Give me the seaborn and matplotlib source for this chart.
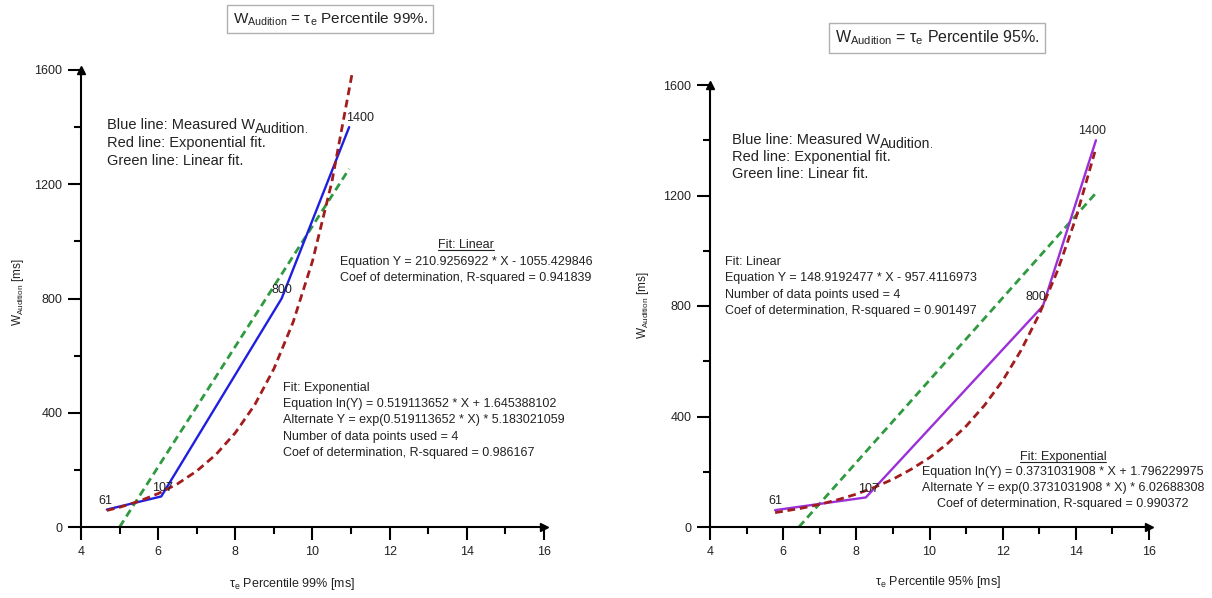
import numpy as np
import pandas as pd
import matplotlib
matplotlib.use("Agg")
import matplotlib.pyplot as plt
import seaborn as sns
from matplotlib.ticker import MultipleLocator
from matplotlib.lines import Line2D

# ---------------- data ----------------
w_audition = [61, 107, 800, 1400]          # measured W_Audition [ms]
tau_p99 = [4.67, 6.08, 9.2, 10.95]          # tau_e percentile 99% [ms]
tau_p95 = [5.78, 8.26, 13.1, 14.55]         # tau_e percentile 95% [ms]

# fitted curves
lin99_x = [5.0, 10.95]
lin99_y = [0, 1254]
exp99_x = [4.67, 5.0, 5.5, 6.0, 6.5, 7.0, 7.5, 8.0, 8.5, 9.0, 9.5, 10.0, 10.5, 11.04]
exp99_y = [58, 69, 90, 117, 151, 196, 254, 330, 427, 554, 718, 931, 1207, 1597]

lin95_x = [6.43, 14.55]
lin95_y = [0, 1209]
exp95_x = [5.78, 6.5, 7.0, 7.5, 8.0, 8.5, 9.0, 9.5, 10.0, 10.5, 11.0, 11.5, 12.0, 12.5, 13.0, 13.5, 14.0, 14.52]
exp95_y = [52, 68, 82, 99, 119, 144, 173, 209, 251, 303, 365, 440, 530, 639, 770, 928, 1118, 1358]

titles = ["W$_{\\mathregular{Audition}}$ = \u03c4$_{\\mathregular{e}}$ Percentile 99%.",
          "W$_{\\mathregular{Audition}}$ = \u03c4$_{\\mathregular{e}}$ Percentile 95%."]
xlabels = ["\u03c4$_{\\mathregular{e}}$ Percentile 99% [ms]",
           "\u03c4$_{\\mathregular{e}}$ Percentile 95% [ms]"]
ylabel = "W$_{\\mathregular{Audition}}$ [ms]"
legend_first = ("Blue line: Measured W", "Audition", ".")
legend_rest = ["Red line: Exponential fit.",
               "Green line: Linear fit."]

left_lin = ["Fit: Linear",
            "Equation Y = 210.9256922 * X - 1055.429846",
            "Coef of determination, R-squared = 0.941839"]
left_exp = ["Fit: Exponential",
            "Equation ln(Y) = 0.519113652 * X + 1.645388102",
            "Alternate Y = exp(0.519113652 * X) * 5.183021059",
            "Number of data points used = 4",
            "Coef of determination, R-squared = 0.986167"]
right_lin = ["Fit: Linear",
             "Equation Y = 148.9192477 * X - 957.4116973",
             "Number of data points used = 4",
             "Coef of determination, R-squared = 0.901497"]
right_exp = ["Fit: Exponential",
             "Equation ln(Y) = 0.3731031908 * X + 1.796229975",
             "Alternate Y = exp(0.3731031908 * X) * 6.02688308",
             "Coef of determination, R-squared = 0.990372"]

# ---------------- style ----------------
sns.set_theme(style="ticks")
plt.rcParams['font.family'] = ['Liberation Sans', 'DejaVu Sans']
plt.rcParams['mathtext.fontset'] = 'custom'
plt.rcParams['mathtext.rm'] = 'Liberation Sans'
plt.rcParams['mathtext.it'] = 'Liberation Sans:italic'

BLUE = "#1f1fe0"
PURPLE = "#9b2fd8"
RED = "#a11d1d"
GREEN = "#2f9a3f"
TXT = "#222222"

W, H = 1212, 598
fig = plt.figure(figsize=(W / 100, H / 100), dpi=100)
fig.patch.set_facecolor("white")


def fx(x):
    return x / W


def fy(y):
    return 1 - y / H


ax1 = fig.add_axes([fx(81), fy(527), (544 - 81) / W, (527 - 70) / H])
ax2 = fig.add_axes([fx(710), fy(527), (1149 - 710) / W, (527 - 85) / H])

dash = (0, (2.8, 1.7))

for ax, tx, lx, ly, ex, ey, mcol in [
    (ax1, tau_p99, lin99_x, lin99_y, exp99_x, exp99_y, BLUE),
    (ax2, tau_p95, lin95_x, lin95_y, exp95_x, exp95_y, PURPLE),
]:
    sns.lineplot(x=lx, y=ly, ax=ax, color=GREEN, lw=2.0, linestyle=dash,
                 sort=False, estimator=None)
    sns.lineplot(x=tx, y=w_audition, ax=ax, color=mcol, lw=1.7,
                 sort=False, estimator=None)
    sns.lineplot(x=ex, y=ey, ax=ax, color=RED, lw=2.0, linestyle=dash,
                 sort=False, estimator=None)

    ax.set_xlim(4, 16)
    ax.set_ylim(0, 1600)
    ax.xaxis.set_major_locator(MultipleLocator(2))
    ax.xaxis.set_minor_locator(MultipleLocator(1))
    ax.yaxis.set_major_locator(MultipleLocator(400))
    ax.yaxis.set_minor_locator(MultipleLocator(200))
    ax.tick_params(which="major", direction="out", length=9.5, width=1.5,
                   colors="black", labelsize=9, pad=4, labelcolor=TXT)
    ax.tick_params(which="minor", direction="out", length=5, width=1.5, colors="black")
    for s in ["top", "right"]:
        ax.spines[s].set_visible(False)
    for s in ["left", "bottom"]:
        ax.spines[s].set_linewidth(1.5)
        ax.spines[s].set_color("black")
    ax.set_facecolor("white")
    ax.plot(1, 0, marker=">", color="black", ms=6, transform=ax.transAxes, clip_on=False)
    ax.plot(0, 1, marker="^", color="black", ms=6, transform=ax.transAxes, clip_on=False)
    ax.set_xlabel("")
    ax.set_ylabel("")

# data labels
lab_off1 = [(-1, 2, "center"), (1, 2, "center"), (0, 2, "center"), (-2, 2, "left")]
lab_off2 = [(0, 2, "center"), (2, 2, "center"), (-5, 2, "center"), (-3, 2, "center")]
for ax, tx, offs in [(ax1, tau_p99, lab_off1), (ax2, tau_p95, lab_off2)]:
    for xv, yv, (dx, dy, ha) in zip(tx, w_audition, offs):
        ax.annotate(str(yv), xy=(xv, yv), xytext=(dx, dy), textcoords="offset points",
                    ha=ha, va="bottom", fontsize=9, color=TXT)

# titles
box = dict(boxstyle="square,pad=0.35", fc="white", ec="#b0b0b0", lw=1)
fig.text(fx(330), fy(19), titles[0], ha="center", va="center", fontsize=11, color=TXT, bbox=box)
fig.text(fx(937), fy(38), titles[1], ha="center", va="center", fontsize=11.5, color=TXT, bbox=box)

# axis labels
fig.text(fx(18), fy(292), ylabel, rotation=90, ha="center", va="center", fontsize=8.5, color=TXT)
fig.text(fx(643), fy(305), ylabel, rotation=90, ha="center", va="center", fontsize=8.5, color=TXT)
fig.text(fx(292), fy(584), xlabels[0], ha="center", va="center", fontsize=9, color=TXT)
fig.text(fx(938), fy(582), xlabels[1], ha="center", va="center", fontsize=9, color=TXT)

# legend-like notes
first_parts = []
for x0, y0, step in [(107, 125, 18), (732, 140, 17)]:
    t = fig.text(fx(x0), fy(y0), legend_first[0], ha="left", va="center", fontsize=10.5, color=TXT)
    first_parts.append((t, y0))
    for i, s in enumerate(legend_rest):
        fig.text(fx(x0), fy(y0 + step * (i + 1)), s, ha="left", va="center", fontsize=10.5, color=TXT)

underline = []
for i, s in enumerate(left_lin):
    t = fig.text(fx(466), fy(245 + 16.5 * i), s, ha="center", va="center", fontsize=9, color=TXT)
    if i == 0:
        underline.append(t)
for i, s in enumerate(left_exp):
    fig.text(fx(283), fy(388 + 16.2 * i), s, ha="left", va="center", fontsize=9, color=TXT)
for i, s in enumerate(right_lin):
    fig.text(fx(725), fy(262 + 16.3 * i), s, ha="left", va="center", fontsize=9, color=TXT)
for i, s in enumerate(right_exp):
    t = fig.text(fx(1063), fy(457 + 15.5 * i), s, ha="center", va="center", fontsize=9, color=TXT)
    if i == 0:
        underline.append(t)

fig.canvas.draw()
r = fig.canvas.get_renderer()
for t in underline:
    bb = t.get_window_extent(renderer=r)
    x0, x1 = bb.x0 / W, bb.x1 / W
    yb = (bb.y0 + 1) / H
    fig.add_artist(Line2D([x0, x1], [yb, yb], transform=fig.transFigure, color=TXT, lw=0.8))

# subscript "Audition." after the first note line
for t, y0 in first_parts:
    bb = t.get_window_extent(renderer=r)
    t2 = fig.text(bb.x1 / W, fy(y0 + 4), legend_first[1], ha="left", va="center",
                  fontsize=10, color=TXT)
    fig.canvas.draw()
    bb2 = t2.get_window_extent(renderer=r)
    fig.text(bb2.x1 / W, fy(y0 + 5), legend_first[2], ha="left", va="center",
             fontsize=8, color=TXT)

fig.savefig("out.png", dpi=100, facecolor="white")
